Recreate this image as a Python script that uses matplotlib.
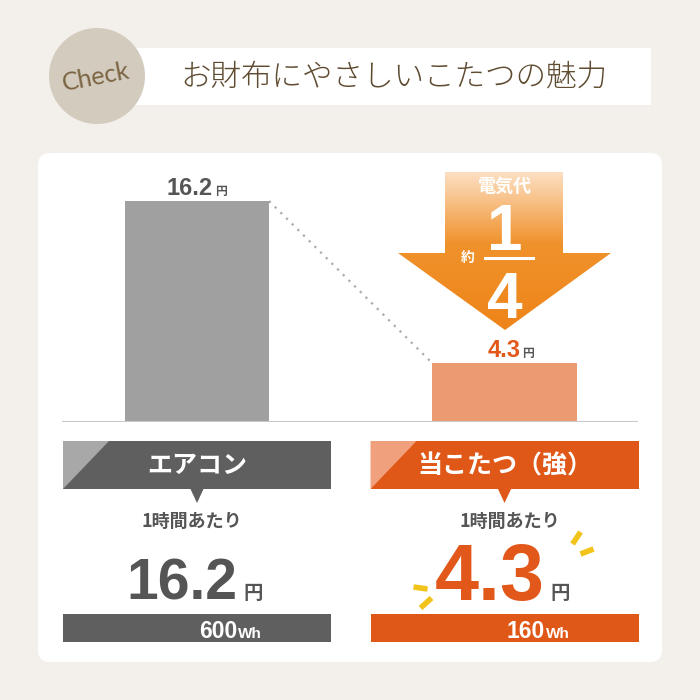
import matplotlib
matplotlib.use('Agg')
import matplotlib.pyplot as plt
import numpy as np
from matplotlib.patches import Rectangle, Circle, Polygon, FancyBboxPatch
from matplotlib.colors import LinearSegmentedColormap
from matplotlib import font_manager

# ---- data ----
title = "お財布にやさしいこたつの魅力"
badge = "Check"
categories = ["エアコン", "当こたつ（強）"]
cost_yen = [16.2, 4.3]
watt_hours = [600, 160]
per_hour_label = "1時間あたり"
arrow_label = "電気代"

bar_colors = ["#a0a0a0", "#ec9a72"]
box_colors = ["#5f5f5f", "#e05818"]
light_colors = ["#a8a8a8", "#f0a07d"]
value_colors = ["#555555", "#e2581a"]
big_sizes = [41, 57]

JP = "Noto Sans CJK JP"
names = {f.name for f in font_manager.fontManager.ttflist}
NUM = "Liberation Sans Narrow" if "Liberation Sans Narrow" in names else "Liberation Sans"

fig = plt.figure(figsize=(7, 7), dpi=100)
fig.patch.set_facecolor("#f3f0eb")

# background layer in pixel coords (y down)
bg = fig.add_axes([0, 0, 1, 1])
bg.axis("off")


def rect(x0, y0, x1, y1, color, z=1):
    bg.add_patch(Rectangle((x0, y0), x1 - x0, y1 - y0, color=color, lw=0, zorder=z))


# header
rect(130, 48, 651, 105, "white")
bg.add_patch(Circle((97, 76), 48, color="#d3cbbe", lw=0, zorder=2))
bg.text(96, 77, badge, rotation=11, fontsize=18, color="#7b6543",
        ha="center", va="center", family="Lato", zorder=3)
bg.text(394, 77, title, fontsize=22, color="#5e4b30", family=JP, weight="light",
        ha="center", va="center", zorder=3)

# white panel
bg.add_patch(FancyBboxPatch((38, 153), 624, 509, boxstyle="round,pad=0,rounding_size=12",
                            fc="white", ec="none", zorder=1))

# ---- bar chart ----
ax = fig.add_axes([62 / 700, (700 - 422) / 700, 576 / 700, (422 - 160) / 700])
ax.patch.set_alpha(0)
ax.axis("off")
x = np.arange(len(cost_yen))
w = 0.469
ax.bar(x, cost_yen, width=w, color=bar_colors, zorder=2)
ax.set_xlim(-0.439, 1.434)
ax.set_ylim(0, 19.21)
ax.axhline(0, color="#c9c9c9", lw=1.5, zorder=3)
ax.plot([x[0] + w / 2, x[1] - w / 2], [cost_yen[0], cost_yen[1]],
        ls=(0, (1, 2.6)), color="#aaaaaa", lw=1.6, zorder=1)

for i, v in enumerate(cost_yen):
    ax.annotate(f"{v:.1f}", (i, v), xytext=(16, 6), textcoords="offset pixels",
                ha="right", va="baseline", fontsize=17, weight="bold", family=NUM,
                color=value_colors[i])
    ax.annotate("円", (i, v), xytext=(18, 6), textcoords="offset pixels",
                ha="left", va="baseline", fontsize=8.5, weight="bold", family=JP,
                color="#555555")

# ---- gradient arrow ----
arrow = Polygon([(445, 172), (563, 172), (563, 253), (611, 253), (505, 330),
                 (398, 253), (445, 253)], closed=True, fc="none", ec="none")
bg.add_patch(arrow)
cmap = LinearSegmentedColormap.from_list(
    "arr", [(0, "#fde0c4"), (0.45, "#f0922c"), (1, "#ee8419")])
grad = np.linspace(0, 1, 256).reshape(-1, 1)
im = bg.imshow(grad, extent=(398, 611, 330, 172), cmap=cmap, aspect="auto", zorder=4)
im.set_clip_path(arrow)

ratio = round(cost_yen[0] / cost_yen[1])
bg.text(505, 186, arrow_label, fontsize=13, weight="bold", color="white",
        family=JP, ha="center", va="center", zorder=5)
bg.text(505, 250, "1", fontsize=46, weight="bold", color="white",
        family=NUM, ha="center", va="baseline", zorder=5)
bg.plot([485, 533], [258, 258], color="white", lw=2.2, zorder=5)
bg.text(505, 318, f"{ratio}", fontsize=46, weight="bold", color="white",
        family=NUM, ha="center", va="baseline", zorder=5)
bg.text(468, 258, "約", fontsize=10, weight="bold", color="white",
        family=JP, ha="center", va="center", zorder=5)

# ---- bottom cards ----
centers = [ax.transData.transform((i, 0))[0] for i in x]
label_shift = [-5, 5]
for i, cx in enumerate(centers):
    x0, x1 = cx - 134, cx + 134
    rect(x0, 441, x1, 489, box_colors[i], z=2)
    bg.add_patch(Polygon([(x0, 441), (x0 + 46, 441), (x0, 489)], color=light_colors[i], lw=0, zorder=3))
    bg.add_patch(Polygon([(cx - 7, 488), (cx + 7, 488), (cx, 503)], color=box_colors[i], lw=0, zorder=3))
    bg.text(cx, 466, categories[i], fontsize=18, weight="bold", color="white",
            family=JP, ha="center", va="center", zorder=4)
    bg.text(cx + label_shift[i], 521, per_hour_label, fontsize=13, weight="bold",
            color="#555555", family=JP, ha="center", va="center", zorder=4)
    bg.text(cx + 40, 600, f"{cost_yen[i]:.1f}", fontsize=big_sizes[i], weight="bold",
            color=value_colors[i], family=NUM, ha="right", va="baseline", zorder=4)
    bg.text(cx + 46, 599, "円", fontsize=14, weight="bold", color="#555555",
            family=JP, ha="left", va="baseline", zorder=4)
    rect(x0, 614, x1, 642, box_colors[i], z=2)
    bg.text(cx + 40, 638, f"{watt_hours[i]}", fontsize=16.5, weight="bold", color="white",
            family=NUM, ha="right", va="baseline", zorder=4)
    bg.text(cx + 41, 638, "Wh", fontsize=11, weight="bold", color="white",
            family=NUM, ha="left", va="baseline", zorder=4)

# sparkles around the smaller cost
cx = centers[1]
for (a, b), (c, d) in [((cx + 68, 544), (cx + 76, 532)), ((cx + 76, 554), (cx + 89, 549)),
                       ((cx - 91, 587), (cx - 77, 589)), ((cx - 84, 608), (cx - 73, 598))]:
    bg.plot([a, c], [b, d], color="#f2c41a", lw=4, solid_capstyle="butt", zorder=4)

bg.set_xlim(0, 700)
bg.set_ylim(700, 0)

plt.savefig("out.png", dpi=100, facecolor=fig.get_facecolor())
plt.close()
